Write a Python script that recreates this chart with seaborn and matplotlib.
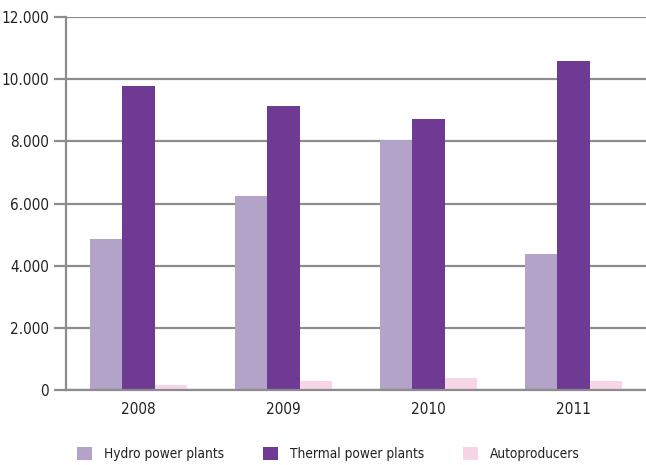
import matplotlib.pyplot as plt
import matplotlib.ticker as mticker
import pandas as pd
import seaborn as sns

# data
years = ["2008", "2009", "2010", "2011"]
hydro = [4860, 6240, 8030, 4375]
thermal = [9770, 9130, 8720, 10590]
autoprod = [160, 290, 375, 290]
series = ["Hydro power plants", "Thermal power plants", "Autoproducers"]
colors = ["#B3A3C9", "#6E3A93", "#F8D5E6"]

df = pd.DataFrame({"year": years * 3,
                   "value": hydro + thermal + autoprod,
                   "series": [s for s in series for _ in years]})

sns.set_style("white")
plt.rcParams["font.family"] = ["DejaVu Sans"]
plt.rcParams["font.stretch"] = "condensed"
plt.rcParams["font.size"] = 10

fig = plt.figure(figsize=(6.46, 4.65), dpi=100)
ax = fig.add_axes([0.102, 0.1613, 0.898, 0.8021])

sns.barplot(data=df, x="year", y="value", hue="series", palette=colors,
            width=0.67, gap=0, saturation=1, edgecolor="none", ax=ax)

ax.set_ylim(0, 12000)
ax.set_xlim(-0.5, 3.5)
ax.set_yticks(range(0, 12001, 2000))
ax.yaxis.set_major_formatter(mticker.FuncFormatter(lambda v, p: f"{int(v):,}".replace(",", ".")))
ax.grid(axis="y", color="#8c8c8c", linewidth=1.6)
ax.set_axisbelow(True)
ax.set_xlabel("")
ax.set_ylabel("")

for s in ["top", "right"]:
    ax.spines[s].set_visible(False)
for s in ["left", "bottom"]:
    ax.spines[s].set_color("#8c8c8c")
    ax.spines[s].set_linewidth(1.6)

ax.tick_params(axis="y", length=9, width=1.6, color="#8c8c8c",
               labelsize=11, labelcolor="#222222", pad=3, left=True)
ax.tick_params(axis="x", length=0, labelsize=11, labelcolor="#222222", pad=9)

ax.legend(loc="upper center", bbox_to_anchor=(0.4526, -0.12), ncol=3, frameon=False,
          fontsize=9.8, handlelength=1.1, handleheight=1.1, handletextpad=0.85,
          columnspacing=2.9, labelcolor="#222222")

fig.savefig("out.png", dpi=100)
